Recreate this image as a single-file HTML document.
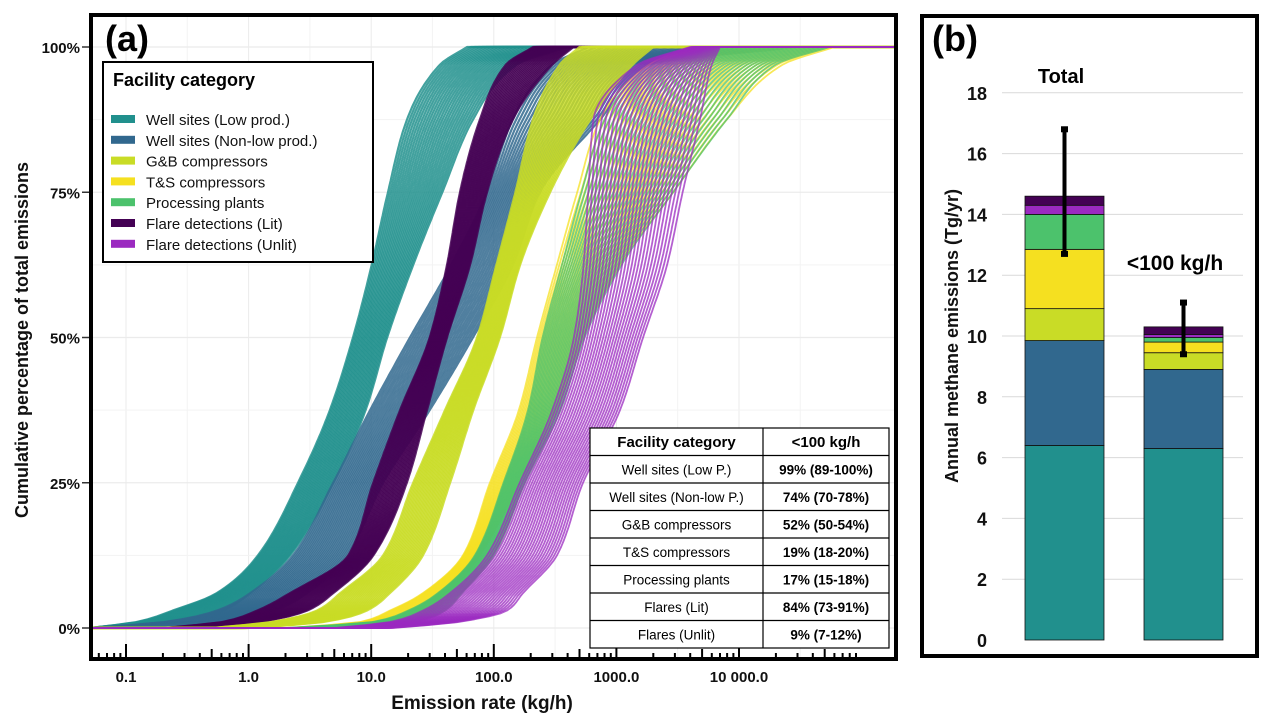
<!DOCTYPE html>
<html><head><meta charset="utf-8"><style>
body{margin:0;background:#fff;width:1273px;height:728px;overflow:hidden;font-family:"Liberation Sans",Arial,sans-serif}
svg{display:block}
text{font-family:"Liberation Sans",Arial,sans-serif}
</style></head><body>
<svg id="chart" width="1273" height="728" viewBox="0 0 1273 728">
<g id="pa"></g>
<g id="pb"></g>
</svg>
<script>
// ===== Panel (a) data =====
const pctLevels = [0, 1, 3, 6, 12.5, 25, 37.5, 50, 62.5, 75, 87.5, 97, 100];
const catNames = ["Well sites (Low prod.)","Well sites (Non-low prod.)","G&B compressors","T&S compressors","Processing plants","Flare detections (Lit)","Flare detections (Unlit)"];
const catColors = ["#21908d","#31688e","#c9dc26","#f5e020","#4cc26c","#440154","#9b2ac0"];
// emission rate (kg/h) at each percentile level: lower and upper edge of the bundle
const lowProdLo = [0.05, 0.12, 0.24, 0.55, 1.19, 2.53, 4.6, 7.1, 10.1, 13.7, 19.6, 36.6, 60.5];
const lowProdHi = [0.06, 0.3, 0.62, 1.03, 2.18, 4.9, 9.0, 13.5, 22, 38, 67.6, 155, 397];
const nonLowLo  = [0.05, 0.2, 0.55, 1.03, 2.3, 4.9, 9.8, 20.7, 45, 88, 143, 302, 600];
const nonLowHi  = [0.08, 0.5, 1.58, 3.0, 6.3, 12.5, 30, 67.6, 143, 238, 735, 1860, 30000];
const litLo     = [0.2, 0.6, 1.17, 2.18, 6.5, 10.4, 17.2, 30, 41.5, 53, 77, 126, 209];
const litHi     = [0.4, 1.2, 3.0, 4.9, 10.4, 19.5, 28.5, 41.5, 64, 88, 143, 302, 447];
const gbLo      = [0.5, 1.5, 3.6, 5.6, 12.5, 22, 40, 73, 105, 150, 209, 347, 500];
const gbHi      = [1, 4, 9.2, 14.2, 26.4, 44, 68, 112, 164, 288, 613, 1365, 2000];
const tsLo      = [2, 8, 14.2, 26.4, 56, 93, 160, 225, 327, 479, 735, 1860, 4000];
const tsHi      = [5, 18, 31.9, 44, 77, 163, 327, 534, 1070, 2900, 7940, 22900, 60000];
const ppLo      = [2, 10, 20, 35, 70, 120, 190, 250, 360, 520, 800, 2000, 6000];
const ppHi      = [5, 22, 40, 55, 100, 180, 350, 550, 1100, 2900, 7940, 20000, 55000];
const unlitLo   = [5, 14, 26.4, 44, 88, 163, 300, 450, 540, 590, 650, 1500, 4000];
const unlitHi   = [15, 50, 128, 173, 327, 534, 1070, 1650, 2590, 3470, 4800, 6000, 7000];
const bundles = [[lowProdLo,lowProdHi],[nonLowLo,nonLowHi],[litLo,litHi],[gbLo,gbHi],[tsLo,tsHi],[ppLo,ppHi],[unlitLo,unlitHi]];
const bundleCat = [0,1,5,2,3,4,6];
const xTickVals = [0.1, 1, 10, 100, 1000, 10000];
const xTickLabels = ["0.1","1.0","10.0","100.0","1000.0","10 000.0"];
const yTickVals = [0, 25, 50, 75, 100];
const yTickLabels = ["0%","25%","50%","75%","100%"];
const tableCats = ["Well sites (Low P.)","Well sites (Non-low P.)","G&B compressors","T&S compressors","Processing plants","Flares (Lit)","Flares (Unlit)"];
const tableVals = ["99% (89-100%)","74% (70-78%)","52% (50-54%)","19% (18-20%)","17% (15-18%)","84% (73-91%)","9% (7-12%)"];

// ===== Panel (b) data =====
const barLabels = ["Total","<100 kg/h"];
const segOrder = [0,1,2,3,4,6,5]; // stacking order bottom->top
const totalSeg = [6.4, 3.45, 1.05, 1.95, 1.15, 0.3, 0.3];
const under100Seg = [6.3, 2.6, 0.55, 0.35, 0.15, 0.1, 0.25];
const errLow = [12.7, 9.4];
const errHigh = [16.8, 11.1];
const bTicks = [0,2,4,6,8,10,12,14,16,18];

const NS="http://www.w3.org/2000/svg";
function mk(tag, attrs, parent, txt){const e=document.createElementNS(NS,tag);for(const k in attrs)e.setAttribute(k,attrs[k]);if(txt!==undefined)e.textContent=txt;parent.appendChild(e);return e;}

const pa=document.getElementById('pa');
const X0=126, DEC=122.6;
function xs(v){return X0+(Math.log10(v)+1)*DEC;}
function ys(p){return 628-(p/100)*581;}
const PL=93, PR=895, PT=16, PB=658;

for(let d=-1; d<=4; d++){
  let g=mk('line',{x1:xs(Math.pow(10,d)),x2:xs(Math.pow(10,d)),y1:PT,y2:PB,stroke:'#ebebeb','stroke-width':1},pa);
  
  
  let g2=mk('line',{x1:xs(Math.pow(10,d)*3.16),x2:xs(Math.pow(10,d)*3.16),y1:PT,y2:PB,stroke:'#f3f3f3','stroke-width':1},pa);
  
  
}
for(let i=0;i<yTickVals.length;i++){
  let g=mk('line',{x1:PL,x2:PR,y1:ys(yTickVals[i]),y2:ys(yTickVals[i]),stroke:'#ebebeb','stroke-width':1.2},pa);
  
  
  if(i<yTickVals.length-1){
    let g2=mk('line',{x1:PL,x2:PR,y1:ys(yTickVals[i]+12.5),y2:ys(yTickVals[i]+12.5),stroke:'#f3f3f3','stroke-width':1},pa);
    
    
  }
}

const clip=mk('clipPath',{id:'clipa'},pa);
mk('rect',{x:PL,y:PT,width:PR-PL,height:PB-PT},clip);
const curvesG=mk('g',{'clip-path':'url(#clipa)'},pa);



function pchip(xk,yk){
  const n=xk.length,h=[],dl=[],m=new Array(n);
  for(let i=0;i<n-1;i++){h.push(xk[i+1]-xk[i]);dl.push((yk[i+1]-yk[i])/h[i]);}
  m[0]=dl[0];m[n-1]=dl[n-2];
  for(let i=1;i<n-1;i++){
    if(dl[i-1]*dl[i]<=0)m[i]=0;
    else{const w1=2*h[i]+h[i-1],w2=h[i]+2*h[i-1];m[i]=(w1+w2)/(w1/dl[i-1]+w2/dl[i]);}
  }
  return function(x){
    let i=0;while(i<n-2&&x>xk[i+1])i++;
    const t=(x-xk[i])/h[i],t2=t*t,t3=t2*t;
    return (2*t3-3*t2+1)*yk[i]+(t3-2*t2+t)*h[i]*m[i]+(-2*t3+3*t2)*yk[i+1]+(t3-t2)*h[i]*m[i+1];
  };
}
function curvePath(lo,hi,t){
  const lv=pctLevels.map((p,i)=>Math.log10(lo[i])*(1-t)+Math.log10(hi[i])*t);
  const f=pchip(pctLevels,lv);
  let d=`M${PL-5},${ys(0)} L${xs(Math.pow(10,lv[0])).toFixed(1)},${ys(0)}`;
  for(let p=0.5;p<=100;p+=0.5){
    d+=` L${xs(Math.pow(10,f(p))).toFixed(1)},${ys(p).toFixed(1)}`;
  }
  d+=` L${PR+5},${ys(100)}`;
  return d;
}
for(let b=0;b<bundles.length;b++){
  const [lo,hi]=bundles[b];const col=catColors[bundleCat[b]];
  const bg=mk('g',{},curvesG);
  
  
  const N=26;
  for(let k=0;k<=N;k++){
    const p=mk('path',{d:curvePath(lo,hi,k/N),fill:'none',stroke:col,'stroke-width':(b>=4?1.8:2.2),'stroke-opacity':(b>=4?0.75:0.85),'stroke-linejoin':'round'},bg);
    
    
  }
}

for(let d=-2; d<=4; d++){
  for(let m=1;m<=9;m++){
    const v=m*Math.pow(10,d);const x=xs(v);
    if(x<PL+2||x>865)continue;
    const major=(m===1), mid=(m===5);
    const t=mk('line',{x1:x,x2:x,y1:PB,y2:PB-(major?14:(mid?9:5)),stroke:'#000','stroke-width':2},pa);
    
    
  }
}
for(let i=0;i<xTickVals.length;i++){
  const t=mk('text',{x:xs(xTickVals[i]),y:682,'text-anchor':'middle','font-size':15,'font-weight':'bold',fill:'#111'},pa,xTickLabels[i]);
  
  
}
for(let i=0;i<yTickVals.length;i++){
  const t=mk('text',{x:80,y:ys(yTickVals[i])+6,'text-anchor':'end','font-size':15,'font-weight':'bold',fill:'#111'},pa,yTickLabels[i]);
  
  
  const tk=mk('line',{x1:82,x2:PL,y1:ys(yTickVals[i]),y2:ys(yTickVals[i]),stroke:'#333','stroke-width':1.5},pa);
  
  
}
let xt=mk('text',{x:482,y:709,'text-anchor':'middle','font-size':19,'font-weight':'bold',fill:'#111'},pa,'Emission rate (kg/h)');

let yt=mk('text',{x:0,y:0,transform:'translate(28,340) rotate(-90)','text-anchor':'middle','font-size':18,'font-weight':'bold',fill:'#111'},pa,'Cumulative percentage of total emissions');


let fa=mk('rect',{x:91,y:15,width:805,height:644,fill:'none',stroke:'#000','stroke-width':4},pa);

let la=mk('text',{x:105,y:51,'font-size':36,'font-weight':'bold',fill:'#000'},pa,'(a)');


const lg=mk('g',{},pa);

mk('rect',{x:103,y:62,width:270,height:200,fill:'#fff',stroke:'#000','stroke-width':2},lg);
let lt=mk('text',{x:113,y:86,'font-size':18,'font-weight':'bold',fill:'#000'},lg,'Facility category');

for(let i=0;i<catNames.length;i++){
  const y=121+i*20.8;
  const e=mk('g',{},lg);
  
  
  mk('rect',{x:111,y:y-6,width:24,height:8,fill:catColors[i]},e);
  mk('text',{x:146,y:y+4,'font-size':15,fill:'#111'},e,catNames[i]);
}

const tb=mk('g',{},pa);

const TX=590,TW=299,TC=763,TY=428,RH=27.5;
mk('rect',{x:TX,y:TY,width:TW,height:RH*8,fill:'#fff',stroke:'#000','stroke-width':1.2},tb);
mk('line',{x1:TC,x2:TC,y1:TY,y2:TY+RH*8,stroke:'#000','stroke-width':1.2},tb);
for(let r=1;r<8;r++)mk('line',{x1:TX,x2:TX+TW,y1:TY+r*RH,y2:TY+r*RH,stroke:'#000','stroke-width':1.2},tb);
let th1=mk('text',{x:(TX+TC)/2,y:TY+19,'text-anchor':'middle','font-size':15,'font-weight':'bold'},tb,'Facility category');

let th2=mk('text',{x:(TC+TX+TW)/2,y:TY+19,'text-anchor':'middle','font-size':15,'font-weight':'bold'},tb,'<100 kg/h');

for(let r=0;r<tableCats.length;r++){
  const y=TY+(r+1)*RH+19;
  let c1=mk('text',{x:(TX+TC)/2,y:y,'text-anchor':'middle','font-size':13.5},tb,tableCats[r]);
  
  let c2=mk('text',{x:(TC+TX+TW)/2,y:y,'text-anchor':'middle','font-size':13.5,'font-weight':'bold'},tb,tableVals[r]);
  
}

// ---- Panel b ----
const pb=document.getElementById('pb');
function yb(v){return 640-v*30.4;}
const barX=[1025,1144], BW=79;
for(const v of bTicks){
  if(v>0){let g=mk('line',{x1:1002,x2:1243,y1:yb(v),y2:yb(v),stroke:'#d9d9d9','stroke-width':1},pb);
  }
  let t=mk('text',{x:987,y:yb(v)+7,'text-anchor':'end','font-size':18,'font-weight':'bold',fill:'#111'},pb,String(v));
  
}
const series=[totalSeg,under100Seg];
for(let b=0;b<2;b++){
  let acc=0;
  for(let s=0;s<series[b].length;s++){
    const v=series[b][s];
    const r=mk('rect',{x:barX[b],y:yb(acc+v),width:BW,height:v*30.4,fill:catColors[segOrder[s]],stroke:'#111','stroke-width':0.8},pb);
    
    
    acc+=v;
  }
  const cx=barX[b]+BW/2;
  const e=mk('line',{x1:cx,x2:cx,y1:yb(errLow[b]),y2:yb(errHigh[b]),stroke:'#000','stroke-width':4},pb);
  
  for(const ev of [errLow[b],errHigh[b]]){
    const c=mk('rect',{x:cx-3.5,y:yb(ev)-3,width:7,height:6,fill:'#000'},pb);
    
  }
}
let bl1=mk('text',{x:1061,y:83,'text-anchor':'middle','font-size':20,'font-weight':'bold'},pb,barLabels[0]);

let bl2=mk('text',{x:1175,y:270,'text-anchor':'middle','font-size':21,'font-weight':'bold'},pb,barLabels[1]);

let byt=mk('text',{x:0,y:0,transform:'translate(958,336) rotate(-90)','text-anchor':'middle','font-size':18,'font-weight':'bold',fill:'#111'},pb,'Annual methane emissions (Tg/yr)');

let fb=mk('rect',{x:922,y:16,width:335,height:640,fill:'none',stroke:'#000','stroke-width':4},pb);

let lb=mk('text',{x:932,y:51,'font-size':36,'font-weight':'bold'},pb,'(b)');

</script>
</body></html>
